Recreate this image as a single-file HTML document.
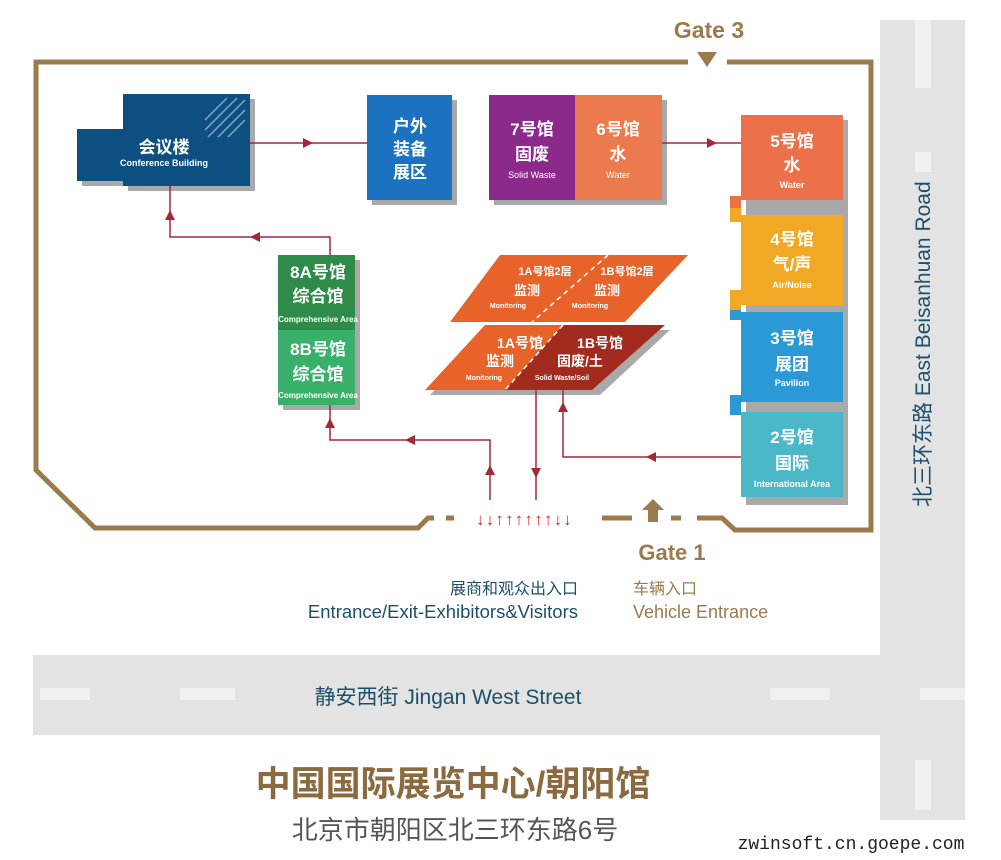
<!DOCTYPE html>
<html><head><meta charset="utf-8"><style>
body{margin:0;background:#fff}
svg{display:block}
text{font-family:"Liberation Sans","Noto Sans CJK SC",sans-serif}
</style></head><body>
<svg width="1001" height="860" viewBox="0 0 1001 860">
<!-- roads -->
<rect x="880" y="20" width="85" height="800" fill="#e3e3e3"/>
<rect x="33" y="655" width="932" height="80" fill="#e3e3e3"/>
<g fill="#f0f0f0">
<rect x="915" y="20" width="16" height="68"/><rect x="915" y="152" width="16" height="20"/>
<rect x="915" y="760" width="16" height="50"/>
<rect x="40" y="688" width="50" height="12"/><rect x="180" y="688" width="55" height="12"/>
<rect x="770" y="688" width="60" height="12"/><rect x="920" y="688" width="45" height="12"/>
</g>
<text transform="translate(930,507) rotate(-90)" font-size="21" fill="#1d4f6a">北三环东路 East Beisanhuan Road</text>
<text x="448" y="704" font-size="21" fill="#1d4f6a" text-anchor="middle">静安西街 Jingan West Street</text>
<!-- boundary -->
<g stroke="#9b7a4e" stroke-width="5" fill="none">
<polyline points="688,62 36,62 36,470 95,528 418,528 428,518 434,518"/>
<polyline points="727,62 871,62 871,530 735,530 722,518 697,518"/>
<line x1="446" y1="518" x2="454" y2="518"/>
<line x1="602" y1="518" x2="632" y2="518"/>
<line x1="671" y1="518" x2="681" y2="518"/>
</g>
<polygon points="697,52 717,52 707,67" fill="#9b7a4e"/>
<text x="709" y="38" font-size="23" font-weight="bold" fill="#9b7a4e" text-anchor="middle">Gate 3</text>
<polygon points="653,499 664,510 658,510 658,522 648,522 648,510 642,510" fill="#9b7a4e"/>
<text x="672" y="560" font-size="22" font-weight="bold" fill="#9b7a4e" text-anchor="middle">Gate 1</text>
<text x="633" y="594" font-size="16" fill="#9b7a4e">车辆入口</text>
<text x="633" y="618" font-size="18" fill="#9b7a4e">Vehicle Entrance</text>
<text x="578" y="594" font-size="16" fill="#1d4f6a" text-anchor="end">展商和观众出入口</text>
<text x="578" y="618" font-size="18.5" fill="#1d4f6a" text-anchor="end">Entrance/Exit-Exhibitors&amp;Visitors</text>
<!-- red small arrows -->
<text x="476" y="525" fill="#d8262e" font-size="17" font-weight="bold" letter-spacing="1.2">↓↓↑↑↑↑↑↑↓↓</text>
<!-- shadows -->
<g fill="#a9a9a9">
<rect x="128" y="99" width="127" height="92"/><rect x="82" y="134" width="60" height="52"/>
<rect x="372" y="100" width="85" height="105"/><rect x="494" y="100" width="173" height="105"/>
<rect x="746" y="120" width="102" height="385"/><rect x="283" y="260" width="77" height="150"/>
</g>
<!-- conference -->
<g fill="#0d4f80">
<rect x="123" y="94" width="127" height="92"/><rect x="77" y="129" width="80" height="52"/>
</g>
<g stroke="#7fa6c6" stroke-width="1.5">
<line x1="205" y1="120" x2="227" y2="98"/><line x1="205" y1="130" x2="237" y2="98"/><line x1="208" y1="137" x2="245" y2="100"/><line x1="218" y1="137" x2="245" y2="110"/><line x1="228" y1="137" x2="245" y2="120"/>
</g>
<text x="164" y="153" font-size="17" font-weight="bold" fill="#fff" text-anchor="middle">会议楼</text>
<text x="164" y="166" font-size="9" font-weight="bold" fill="#fff" text-anchor="middle">Conference Building</text>
<rect x="367" y="95" width="85" height="105" fill="#1a72c0"/>
<g font-size="17" font-weight="bold" fill="#fff" text-anchor="middle">
<text x="410" y="132">户外</text><text x="410" y="155">装备</text><text x="410" y="178">展区</text>
</g>
<rect x="489" y="95" width="86" height="105" fill="#8b2a8a"/>
<rect x="575" y="95" width="87" height="105" fill="#ec7a4f"/>
<g font-size="17" font-weight="bold" fill="#fff" text-anchor="middle">
<text x="532" y="135">7号馆</text><text x="532" y="160">固废</text>
<text x="618" y="135">6号馆</text><text x="618" y="160">水</text>
</g>
<text x="532" y="178" font-size="9" fill="#fff" text-anchor="middle">Solid Waste</text>
<text x="618" y="178" font-size="9" fill="#fff" text-anchor="middle">Water</text>
<!-- right column -->
<rect x="730" y="196" width="11" height="12" fill="#ec7049"/>
<rect x="730" y="208" width="11" height="14" fill="#f1a824"/>
<rect x="730" y="290" width="11" height="20" fill="#f1a824"/>
<rect x="730" y="310" width="11" height="10" fill="#2b99d6"/>
<rect x="730" y="395" width="11" height="20" fill="#2b99d6"/>
<rect x="741" y="115" width="102" height="85" fill="#ec7049"/>
<rect x="741" y="215" width="102" height="90" fill="#f1a824"/>
<rect x="741" y="312" width="102" height="90" fill="#2b99d6"/>
<rect x="741" y="412" width="102" height="85" fill="#4bb8c8"/>
<g stroke="#aaa" stroke-width="1.5"><line x1="792" y1="200" x2="792" y2="215"/><line x1="792" y1="305" x2="792" y2="312"/><line x1="792" y1="402" x2="792" y2="412"/></g>
<g font-size="17" font-weight="bold" fill="#fff" text-anchor="middle">
<text x="792" y="147">5号馆</text><text x="792" y="171">水</text>
<text x="792" y="245">4号馆</text><text x="792" y="270">气/声</text>
<text x="792" y="344">3号馆</text><text x="792" y="370">展团</text>
<text x="792" y="443">2号馆</text><text x="792" y="469">国际</text>
</g>
<g font-size="9" font-weight="bold" fill="#fff" text-anchor="middle">
<text x="792" y="188">Water</text><text x="792" y="288">Air/Noise</text><text x="792" y="386">Pavilion</text><text x="792" y="487">International Area</text>
</g>
<!-- 8A/8B -->
<rect x="278" y="255" width="77" height="75" fill="#2e8b4a"/>
<rect x="278" y="330" width="77" height="75" fill="#38b06a"/>
<g font-size="17" font-weight="bold" fill="#fff" text-anchor="middle">
<text x="318" y="278">8A号馆</text><text x="318" y="302">综合馆</text>
<text x="318" y="355">8B号馆</text><text x="318" y="380">综合馆</text>
</g>
<text x="318" y="322" font-size="8" font-weight="bold" fill="#fff" text-anchor="middle">Comprehensive Area</text>
<text x="318" y="398" font-size="8" font-weight="bold" fill="#fff" text-anchor="middle">Comprehensive Area</text>
<!-- parallelograms -->
<polygon points="430,395 490,330 670,330 600,395" fill="#a9a9a9"/>
<polygon points="500,255 688,255 625,322 450,322" fill="#e8632a"/>
<polygon points="485,325 563,325 505,390 425,390" fill="#e8632a"/>
<polygon points="563,325 665,325 592,390 505,390" fill="#a32a1f"/>
<g stroke="#fff" stroke-width="1.5" stroke-dasharray="5,4">
<line x1="608" y1="255" x2="532" y2="322"/><line x1="563" y1="325" x2="505" y2="390"/>
</g>
<g fill="#fff" text-anchor="middle" font-weight="bold">
<text x="545" y="275" font-size="11">1A号馆2层</text><text x="627" y="275" font-size="11">1B号馆2层</text>
<text x="527" y="295" font-size="13">监测</text><text x="607" y="295" font-size="13">监测</text>
<text x="508" y="308" font-size="7">Monitoring</text><text x="590" y="308" font-size="7">Monitoring</text>
<text x="520" y="348" font-size="14">1A号馆</text><text x="600" y="348" font-size="14">1B号馆</text>
<text x="500" y="366" font-size="14">监测</text><text x="580" y="366" font-size="14">固废/土</text>
<text x="484" y="380" font-size="7">Monitoring</text><text x="562" y="380" font-size="7">Solid Waste/Soil</text>
</g>
<!-- connectors -->
<g stroke="#a3283a" stroke-width="1.5" fill="none">
<line x1="250" y1="143" x2="367" y2="143"/><line x1="662" y1="143" x2="741" y2="143"/>
<polyline points="330,255 330,237 170,237 170,186"/>
<polyline points="490,500 490,440 330,440 330,405"/>
<line x1="536" y1="390" x2="536" y2="500"/>
<polyline points="563,390 563,457 741,457"/>
</g>
<g fill="#a3283a">
<polygon points="313,143 303,138 303,148"/><polygon points="717,143 707,138 707,148"/>
<polygon points="250,237 260,232 260,242"/><polygon points="170,210 165,220 175,220"/>
<polygon points="490,465 485,475 495,475"/><polygon points="405,440 415,435 415,445"/>
<polygon points="330,418 325,428 335,428"/><polygon points="536,478 531,468 541,468"/>
<polygon points="646,457 656,452 656,462"/><polygon points="563,402 558,412 568,412"/>
</g>
<!-- title -->
<text x="453" y="796" font-size="35" font-weight="bold" fill="#8a6a3e" text-anchor="middle">中国国际展览中心/朝阳馆</text>
<text x="455" y="839" font-size="26" fill="#555" text-anchor="middle">北京市朝阳区北三环东路6号</text>
<text x="851" y="849" font-size="18" fill="#222" text-anchor="middle" style="font-family:'Liberation Mono',monospace">zwinsoft.cn.goepe.com</text>
</svg>
</body></html>
